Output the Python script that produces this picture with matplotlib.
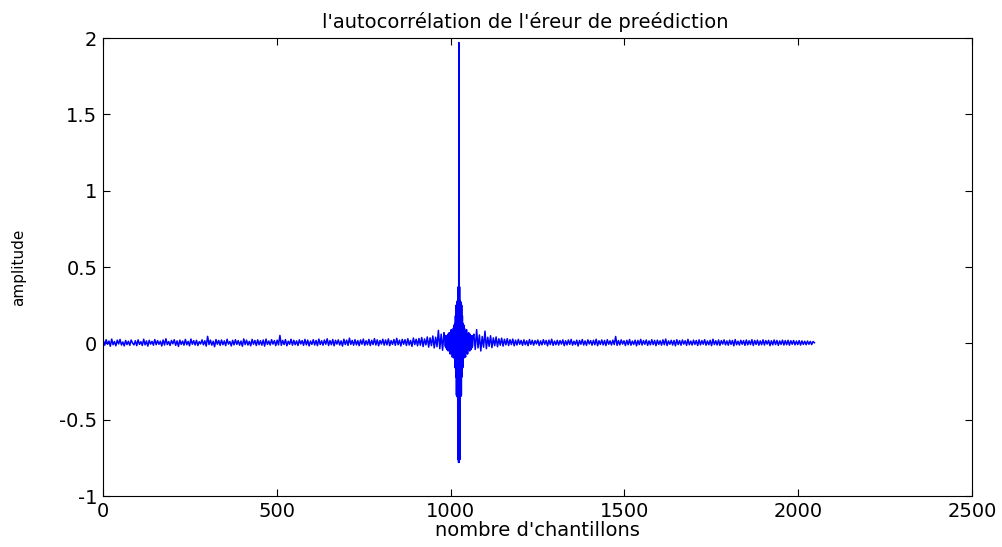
import matplotlib
matplotlib.use('Agg')
import matplotlib.pyplot as plt
import numpy as np

# autocorrélation : partie centrale (retards 0..40, symétrique)
centre_half = [1.97, -0.78, 0.37, -0.76, 0.28, -0.35, 0.27, -0.34, 0.25, -0.22,
               0.18, -0.16, 0.13, -0.10, 0.12, -0.09, 0.10, -0.08, 0.07, -0.09,
               0.08, -0.05, 0.09, -0.06, 0.05, -0.07, 0.06, -0.03, 0.07, -0.04,
               0.05, -0.05, 0.06, -0.02, 0.05, -0.04, 0.04, -0.03, 0.05, -0.02,
               0.04]

# queue gauche, échantillons 1..981 (pas de 4)
left_tail = [
    0.018, -0.012, 0.024, -0.006, 0.015, -0.019, 0.028, -0.009, 0.012, -0.016, 0.021, -0.004,
    0.026, -0.011, 0.009, -0.017, 0.019, -0.008, 0.014, -0.013, 0.022, 0.002, -0.010, 0.017,
    -0.015, 0.023, -0.007, 0.011, -0.014, 0.027, -0.010, 0.016, -0.018, 0.020, -0.005, 0.013,
    -0.012, 0.025, -0.009, 0.018, -0.006, 0.014, -0.017, 0.022, -0.011, 0.030, -0.008, 0.012,
    -0.014, 0.019, -0.003, 0.024, -0.013, 0.016, -0.020, 0.021, -0.007, 0.015, -0.012, 0.026,
    -0.009, 0.013, -0.016, 0.028, -0.006, 0.018, -0.011, 0.020, -0.014, 0.011, -0.004, 0.023,
    -0.010, 0.017, -0.018, 0.046, -0.008, 0.021, -0.012, 0.014, -0.022, 0.025, -0.006, 0.019,
    -0.013, 0.022, -0.009, 0.016, -0.015, 0.027, -0.005, 0.012, -0.017, 0.020, -0.010, 0.024,
    -0.007, 0.018, -0.012, 0.015, -0.019, 0.029, -0.008, 0.021, -0.011, 0.013, -0.016, 0.026,
    -0.006, 0.019, -0.014, 0.023, -0.009, 0.017, -0.012, 0.022, -0.018, 0.028, -0.007, 0.015,
    -0.011, 0.024, -0.005, 0.018, -0.015, 0.021, -0.010, 0.052, -0.013, 0.019, -0.008, 0.025,
    -0.016, 0.014, -0.006, 0.027, -0.012, 0.020, -0.009, 0.016, -0.014, 0.023, -0.004, 0.018,
    -0.013, 0.026, -0.010, 0.021, -0.017, 0.015, -0.007, 0.024, -0.011, 0.019, -0.015, 0.028,
    -0.008, 0.017, -0.012, 0.022, -0.006, 0.030, -0.014, 0.018, -0.009, 0.025, -0.016, 0.020,
    -0.005, 0.023, -0.011, 0.016, -0.018, 0.027, -0.008, 0.021, -0.013, 0.034, -0.007, 0.019,
    -0.012, 0.024, -0.010, 0.018, -0.015, 0.022, -0.006, 0.028, -0.013, 0.017, -0.009, 0.026,
    -0.014, 0.020, -0.008, 0.031, -0.011, 0.023, -0.016, 0.019, -0.005, 0.027, -0.012, 0.022,
    -0.010, 0.029, -0.015, 0.018, -0.007, 0.025, -0.013, 0.033, -0.009, 0.021, -0.017, 0.026,
    -0.006, 0.024, -0.014, 0.030, -0.011, 0.019, -0.020, 0.035, -0.008, 0.027, -0.016, 0.032,
    -0.012, 0.038, -0.021, 0.029, -0.010, 0.042, -0.025, 0.036, -0.015, 0.048, -0.030, 0.040,
    -0.022, 0.085, -0.035, 0.060, -0.045, 0.070]

# queue droite, échantillons 1067..2047 (pas de 4)
right_tail = [
    0.060, -0.040, 0.090, -0.030, 0.055, -0.050, 0.045, -0.025, 0.080, -0.035, 0.040, -0.020,
    0.050, -0.028, 0.036, -0.015, 0.042, -0.022, 0.030, -0.012, 0.034, -0.018, 0.027, -0.010,
    0.031, -0.014, 0.024, -0.008, 0.028, -0.016, 0.021, -0.011, 0.026, -0.006, 0.019, -0.013,
    0.023, -0.009, 0.017, -0.015, 0.025, -0.007, 0.020, -0.012, 0.018, -0.004, 0.022, -0.014,
    0.016, -0.010, 0.024, -0.006, 0.019, -0.016, 0.021, -0.008, 0.027, -0.013, 0.015, -0.009,
    0.020, -0.011, 0.018, -0.005, 0.023, -0.015, 0.017, -0.010, 0.022, -0.007, 0.026, -0.012,
    0.014, -0.008, 0.021, -0.017, 0.019, -0.006, 0.025, -0.011, 0.016, -0.013, 0.023, -0.004,
    0.018, -0.012, 0.020, -0.009, 0.027, -0.015, 0.017, -0.007, 0.022, -0.010, 0.019, -0.014,
    0.024, -0.006, 0.016, -0.011, 0.021, -0.008, 0.045, -0.013, 0.018, -0.010, 0.023, -0.005,
    0.017, -0.014, 0.020, -0.009, 0.025, -0.012, 0.015, -0.007, 0.021, -0.016, 0.019, -0.008,
    0.026, -0.011, 0.018, -0.006, 0.022, -0.013, 0.016, -0.010, 0.024, -0.008, 0.019, -0.015,
    0.021, -0.007, 0.017, -0.012, 0.023, -0.009, 0.028, -0.014, 0.016, -0.006, 0.020, -0.011,
    0.019, -0.016, 0.024, -0.008, 0.018, -0.012, 0.022, -0.005, 0.017, -0.013, 0.026, -0.009,
    0.015, -0.011, 0.021, -0.007, 0.019, -0.014, 0.023, -0.010, 0.018, -0.006, 0.024, -0.012,
    0.016, -0.009, 0.020, -0.015, 0.027, -0.008, 0.017, -0.011, 0.022, -0.013, 0.018, -0.005,
    0.023, -0.010, 0.016, -0.012, 0.021, -0.007, 0.019, -0.016, 0.025, -0.009, 0.014, -0.011,
    0.020, -0.006, 0.018, -0.013, 0.022, -0.010, 0.017, -0.008, 0.024, -0.014, 0.019, -0.007,
    0.021, -0.012, 0.016, -0.009, 0.023, -0.011, 0.018, -0.005, 0.020, -0.015, 0.017, -0.010,
    0.022, -0.008, 0.019, -0.013, 0.016, -0.007, 0.021, -0.011, 0.018, -0.009, 0.020, -0.012,
    0.017, -0.006, 0.019, -0.010, 0.015, -0.008, 0.018, -0.011, 0.016, -0.007, 0.014, -0.009,
    0.015, -0.006, 0.013, -0.008, 0.012, 0.004]

x_ticks = [0, 500, 1000, 1500, 2000, 2500]
y_ticks = [-1, -0.5, 0, 0.5, 1, 1.5, 2]
y_ticklabels = ['-1', '-0.5', '0', '0.5', '1', '1.5', '2']

# assemblage du signal
centre = centre_half[::-1] + centre_half[1:]
x_left = np.arange(1, 982, 4)
x_centre = np.arange(984, 1065)
x_right = np.arange(1067, 2048, 4)
x = np.concatenate([x_left, x_centre, x_right])
y = np.concatenate([left_tail, centre, right_tail])

plt.rcParams['font.family'] = ['DejaVu Sans']

fig = plt.figure(figsize=(10.03, 5.47), dpi=100)
ax = fig.add_axes([0.1027, 0.0932, 0.8663, 0.8373])
ax.plot(x, y, color=(0, 0, 1), lw=1.1)

ax.set_xlim(0, 2500)
ax.set_ylim(-1, 2)
ax.set_xticks(x_ticks)
ax.set_yticks(y_ticks)
ax.set_yticklabels(y_ticklabels)
ax.tick_params(direction='in', top=True, right=True, length=5, width=0.8,
               labelsize=14, pad=4)
for s in ax.spines.values():
    s.set_linewidth(0.8)

ax.set_title("l'autocorrélation de l'éreur de preédiction", fontsize=14, pad=7, x=0.486)
ax.set_xlabel("nombre d'chantillons", fontsize=14, labelpad=0)
ax.set_ylabel('amplitude', fontsize=11, labelpad=24)

fig.savefig('out.png', dpi=100)
